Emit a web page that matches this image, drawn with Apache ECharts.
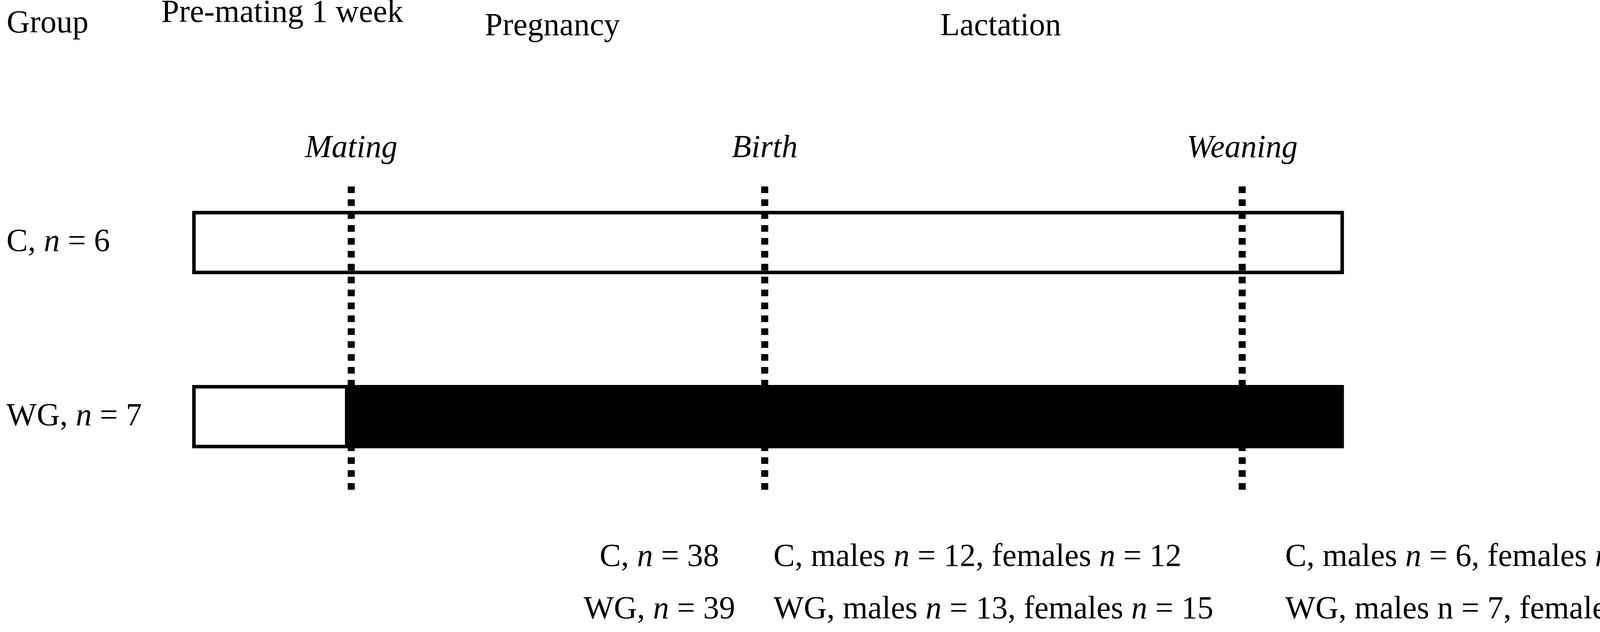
<!DOCTYPE html>
<html>
<head>
<meta charset="utf-8">
<title>Study design</title>
<script src="https://cdn.jsdelivr.net/npm/echarts@6/dist/echarts.min.js"></script>
<style>
  html, body { margin: 0; padding: 0; background: #fff; }
  #main { width: 4353px; height: 1617px; }
</style>
</head>
<body>
<div id="main"></div>
<script>
// groups and their dam counts
var groups = ['C', 'WG'];
var groupN = [6, 7];

// timeline (days from start of pre-mating period)
var eventNames = ['Mating', 'Birth', 'Weaning'];
var eventDays = [7, 25.4, 46.65];
var studyEnd = 51.1;

// diet segments: group index, start day, end day, filled (1 = weight-gain diet)
var segGroup = [1, 1, 0];
var segStart = [0, 6.8, 0];
var segEnd = [6.8, 51.1, 51.1];
var segFilled = [0, 1, 0];

// phase headers
var phaseNames = ['Pre-mating 1 week', 'Pregnancy', 'Lactation'];

// sample sizes under the timeline
var birthN = [38, 39];
var weanMales = [12, 13];
var weanFemales = [12, 15];
var adultMales = [6, 7];
var adultFemales = [6, 7];
var adultMaleNItalic = [true, false];

var FONT = '"Liberation Serif", "Times New Roman", serif';
var FS = 82;

var segData = segGroup.map(function (g, i) {
    return [g, segStart[i], segEnd[i], segFilled[i]];
});
var eventData = eventDays.map(function (d, i) {
    return { name: eventNames[i], value: [d] };
});

function n(italic) { return italic ? '{i|n}' : 'n'; }

function textEl(text, x, y, align) {
    return {
        type: 'text',
        x: x,
        y: y,
        style: {
            text: text,
            fill: '#000',
            fontSize: FS,
            fontFamily: FONT,
            align: align || 'left',
            verticalAlign: 'middle',
            rich: { i: { fontStyle: 'italic', fontSize: FS, fontFamily: FONT, fill: '#000' } }
        }
    };
}

var graphics = [
    textEl('Group', 17, 61),
    textEl(phaseNames[0], 413, 34),
    textEl(phaseNames[1], 1241, 68),
    textEl(phaseNames[2], 2407, 68)
];
var rowY = [1426, 1560];
groups.forEach(function (g, i) {
    graphics.push(textEl(g + ', {i|n} = ' + birthN[i], 1688, rowY[i], 'center'));
    graphics.push(textEl(g + ', males {i|n} = ' + weanMales[i] + ', females {i|n} = ' + weanFemales[i], 1980, rowY[i]));
    graphics.push(textEl(g + ', males ' + n(adultMaleNItalic[i]) + ' = ' + adultMales[i] + ', females {i|n} = ' + adultFemales[i], 3290, rowY[i]));
});

var chart = echarts.init(document.getElementById('main'));
chart.setOption({
    backgroundColor: '#fff',
    animation: false,
    grid: { left: 496.5, right: 917, top: 397.75, bottom: 328.25 },
    xAxis: { type: 'value', min: 0, max: studyEnd, show: false },
    yAxis: {
        type: 'category',
        data: groups,
        inverse: true,
        axisLine: { show: false },
        axisTick: { show: false },
        splitLine: { show: false },
        axisLabel: {
            align: 'left',
            margin: 480,
            color: '#000',
            fontSize: FS,
            fontFamily: FONT,
            formatter: function (v, idx) {
                return v + ', {i|n} = ' + groupN[idx];
            },
            rich: { i: { fontStyle: 'italic', fontSize: FS, fontFamily: FONT, color: '#000' } }
        }
    },
    graphic: graphics,
    series: [{
        type: 'custom',
        name: 'diet',
        encode: { x: [1, 2], y: 0 },
        data: segData,
        renderItem: function (params, api) {
            var g = api.value(0);
            var s = api.coord([api.value(1), g]);
            var e = api.coord([api.value(2), g]);
            var h = api.size([0, 1])[1] * 0.3434;
            return {
                type: 'rect',
                shape: { x: s[0], y: s[1] - h / 2, width: e[0] - s[0], height: h },
                style: { fill: api.value(3) ? '#000' : '#fff', stroke: '#000', lineWidth: 9 }
            };
        },
        z: 2
    }, {
        type: 'custom',
        name: 'events',
        encode: { x: 0 },
        data: eventData,
        renderItem: function (params, api) {
            var band = api.size([0, 1])[1];
            var x = api.coord([api.value(0), 0])[0];
            var yTop = api.coord([0, 0])[1] - band * 0.322;
            var yBot = api.coord([0, groups.length - 1])[1] + band * 0.422;
            return {
                type: 'group',
                children: [{
                    type: 'line',
                    shape: { x1: x, y1: yTop, x2: x, y2: yBot },
                    style: { stroke: '#000', lineWidth: 18, lineDash: [17, 16] }
                }, {
                    type: 'text',
                    x: x,
                    y: yTop - 97,
                    style: {
                        text: eventNames[params.dataIndex],
                        fill: '#000',
                        font: 'italic ' + FS + 'px ' + FONT,
                        align: 'center',
                        verticalAlign: 'middle'
                    }
                }]
            };
        },
        z: 3
    }]
});
</script>
</body>
</html>
